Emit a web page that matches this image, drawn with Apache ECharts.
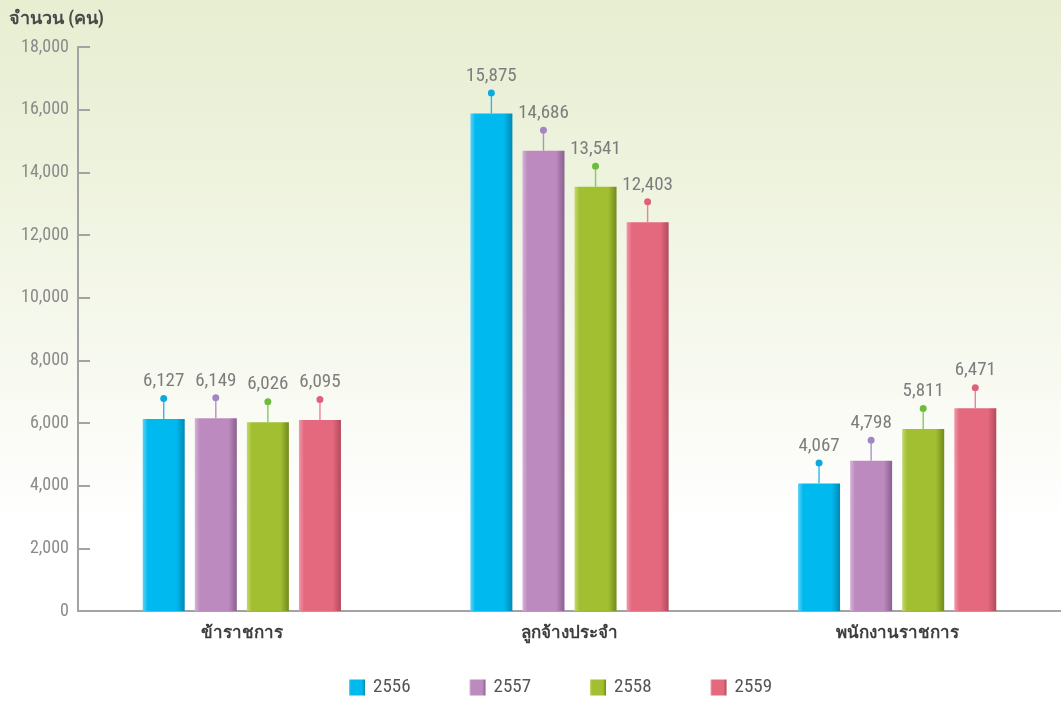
<!DOCTYPE html>
<html>
<head>
<meta charset="utf-8">
<script src="https://cdn.jsdelivr.net/npm/echarts@6/dist/echarts.min.js"></script>
<style>
html,body{margin:0;padding:0;width:1061px;height:703px;overflow:hidden;}
#c{width:1061px;height:703px;background:linear-gradient(180deg,#e7eed1 0%,#eef3de 25%,#f8faf2 55%,#ffffff 75%,#ffffff 100%);}
</style>
</head>
<body>
<div id="c"></div>
<script>
var categories = ['ข้าราชการ', 'ลูกจ้างประจำ', 'พนักงานราชการ'];
var years = ['2556', '2557', '2558', '2559'];
var values2556 = [6127, 15875, 4067];
var values2557 = [6149, 14686, 4798];
var values2558 = [6026, 13541, 5811];
var values2559 = [6095, 12403, 6471];
var yTicks = [0, 2000, 4000, 6000, 8000, 10000, 12000, 14000, 16000, 18000];
var yAxisTitle = 'จำนวน (คน)';

var baseColors = ['#00b9ef', '#bc8abf', '#a1bf30', '#e4697e'];
var lightColors = ['#5fd2f6', '#d6b3d8', '#c4d86f', '#ef9aa8'];
var darkColors = ['#0089b3', '#8a5f8e', '#718a1c', '#b24a5c'];
var pinColors = ['#0aa9e0', '#a286c4', '#6cbd3c', '#e0607a'];
var stemColors = ['#2bb8ea', '#ab92cc', '#86c95c', '#e8839a'];
var allValues = [values2556, values2557, values2558, values2559];

var font = '"Liberation Sans Narrow", "Roboto Condensed", "Liberation Sans", "Noto Sans", sans-serif';

function fmt(v){ return v.toLocaleString('en-US'); }

var series = [];
years.forEach(function(y, i){
  series.push({
    name: y,
    type: 'bar',
    data: allValues[i],
    barWidth: 42,
    barGap: '24%',
    itemStyle: {
      color: new echarts.graphic.LinearGradient(0, 0, 1, 0, [
        {offset: 0, color: lightColors[i]},
        {offset: 0.12, color: baseColors[i]},
        {offset: 0.8, color: baseColors[i]},
        {offset: 1, color: darkColors[i]}
      ])
    },
    label: {
      show: true,
      position: 'top',
      distance: 28,
      formatter: function(p){ return fmt(p.value); },
      color: '#7d7d7d',
      fontSize: 19,
      fontFamily: font
    },
    z: 2
  });
});
years.forEach(function(y, i){
  series.push({
    name: y + '_pin',
    type: 'pictorialBar',
    data: allValues[i],
    barWidth: 42,
    barGap: '24%',
    symbol: 'path://M3.5,0 A3.5,3.5 0 1,1 3.49,0 Z M2.8,3.5 L4.2,3.5 L4.2,24 L2.8,24 Z',
    symbolSize: [7, 24],
    symbolPosition: 'end',
    symbolOffset: [0, '-100%'],
    itemStyle: { color: new echarts.graphic.LinearGradient(0, 0, 0, 1, [
      {offset: 0, color: pinColors[i]},
      {offset: 0.27, color: pinColors[i]},
      {offset: 0.3, color: stemColors[i]},
      {offset: 1, color: stemColors[i]}
    ]) },
    z: 3,
    silent: true
  });
});

var chart = echarts.init(document.getElementById('c'), null, {renderer: 'canvas'});
chart.setOption({
  backgroundColor: 'transparent',
  animation: false,
  title: {
    text: yAxisTitle,
    left: 4,
    top: 5,
    textStyle: { fontSize: 18, fontWeight: 'bold', color: '#4a4a4a', fontFamily: font }
  },
  legend: {
    data: years,
    bottom: 1,
    left: 344,
    itemWidth: 16,
    itemHeight: 16,
    itemGap: 59,
    icon: 'rect',
    textStyle: { color: '#555', fontSize: 19, fontFamily: font, padding: [0, 0, 0, 3] }
  },
  grid: { left: 78, right: 0, top: 47, bottom: 92 },
  xAxis: {
    type: 'category',
    data: categories,
    axisLine: { lineStyle: { color: '#a3a3a3', width: 2 } },
    axisTick: { show: false },
    axisLabel: { color: '#3e3e3e', fontSize: 17, fontWeight: 'bold', fontFamily: font, margin: 14 }
  },
  yAxis: {
    type: 'value',
    min: 0,
    max: 18000,
    interval: 2000,
    axisLine: { show: true, lineStyle: { color: '#a3a3a3', width: 2 } },
    axisTick: { show: true, inside: true, length: 12, lineStyle: { color: '#a3a3a3', width: 2 } },
    splitLine: { show: false },
    axisLabel: {
      color: '#8a8a8a', fontSize: 18, fontFamily: font, margin: 9,
      formatter: function(v){ return yTicks.indexOf(v) >= 0 ? fmt(v) : ''; }
    }
  },
  series: series
});
</script>
</body>
</html>
